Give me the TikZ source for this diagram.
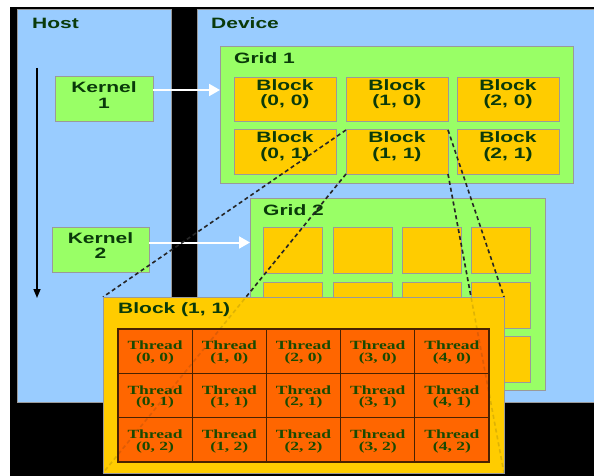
\documentclass[tikz,border=0pt]{standalone}
\usepackage{fontspec}
\usetikzlibrary{arrows.meta}
\newfontfamily\hb{Liberation Sans}[FakeStretch=1.4]
\newfontfamily\tb{Liberation Serif}[FakeStretch=1.4]
\definecolor{hostblue}{HTML}{99CCFF}
\definecolor{lgreen}{HTML}{99FF66}
\definecolor{bgold}{HTML}{FFCC00}
\definecolor{torange}{HTML}{FF6600}
\definecolor{dgreen}{HTML}{0A3A0A}
\definecolor{tgreen}{HTML}{1A4A00}
\definecolor{edgegray}{HTML}{9A9A9A}
\definecolor{dbrown}{HTML}{4A2200}
\begin{document}
\begin{tikzpicture}[x=1pt,y=-1pt,
 box/.style={draw=edgegray,line width=1pt,anchor=north west,inner sep=0pt,outer sep=0pt},
 panel/.style={box,fill=hostblue},
 gbox/.style={box,fill=lgreen},
 bbox/.style={box,fill=bgold},
 tcell/.style={box,fill=torange,draw=dbrown,line width=1.2pt},
 ttl/.style={anchor=base west,inner sep=0pt,font=\hb\bfseries\fontsize{15}{15}\selectfont,text=dgreen},
 lab/.style={anchor=base,inner sep=0pt,align=center,font=\hb\bfseries\fontsize{15}{15.3}\selectfont,text=dgreen},
 tlab/.style={anchor=center,inner sep=0pt,align=center,font=\tb\bfseries\fontsize{12.5}{11.7}\selectfont,text=tgreen},
 warrow/.style={draw=white,line width=2pt,-{Triangle[length=11pt,width=12pt]}},
 dline/.style={draw=black!85,line width=1.6pt,dash pattern=on 4pt off 3pt},
]
\useasboundingbox (0,0) rectangle (594,476);
\fill[white] (0,0) rectangle (594,476);
\fill[black] (10,7) rectangle (594,476);

% panels
\node[panel,minimum width=154pt,minimum height=392pt] (host) at (17,10) {};
\node[panel,minimum width=397pt,minimum height=392pt] (dev) at (197,10) {};
\node[ttl] (hostt) at (32,28.5) {Host};
\node[ttl] (devt) at (211,28.5) {Device};

% host timeline arrow
\coordinate (hs) at (37,68);
\coordinate (he) at (37,298);
\draw[line width=1.5pt,-{Triangle[length=9pt,width=7pt]}] (hs) -- (he);

% kernels
\node[gbox,minimum width=98pt,minimum height=45pt] (k1) at (55,77) {};
\node[lab] (k1t) at ([yshift=-31.3pt]k1.north) {Kernel\\1};
\node[gbox,minimum width=97pt,minimum height=45pt] (k2) at (52,227) {};
\node[lab] (k2t) at ([yshift=-31.3pt]k2.north) {Kernel\\2};

% grid 1
\node[gbox,minimum width=353pt,minimum height=136pt] (g1) at (220,47) {};
\node[ttl] (g1t) at (234,64) {Grid 1};
\foreach \i/\x in {0/234,1/346,2/457}{
  \foreach \j/\y in {0/78,1/130}{
    \node[bbox,minimum width=102pt,minimum height=44pt] (b\i\j) at (\x,\y) {};
    \node[lab] (b\i\j t) at ([yshift=-28pt]b\i\j.north) {Block\\(\i, \j)};
  }
}

% grid 2
\node[gbox,minimum width=295pt,minimum height=192pt] (g2) at (250,198) {};
\node[ttl] (g2t) at (263,215) {Grid 2};
\foreach \i/\x in {0/263,1/333,2/402,3/471}{
  \foreach \j/\y in {0/227,1/282,2/336}{
    \node[bbox,minimum width=59pt,minimum height=46pt] (s\i\j) at (\x,\y) {};
  }
}

% kernel launch arrows
\coordinate (k1a) at ([yshift=9.5pt]k1.east);
\draw[warrow] (k1a) -- (k1a -| g1.west);
\coordinate (k2a) at ([yshift=7pt]k2.east);
\draw[warrow] (k2a) -- (k2a -| g2.west);

% zoom lines
\coordinate (bnw) at (103,297);
\coordinate (bne) at (504,297);
\coordinate (bsw) at (103,473);
\coordinate (bse) at (504,473);
\draw[dline] (b11.north west) -- (bnw);
\draw[dline] (b11.south west) -- (bsw);
\draw[dline] (b11.north east) -- (bne);
\draw[dline] (b11.south east) -- (bse);

% enlarged block
\node[bbox,minimum width=401pt,minimum height=176pt] (big) at (bnw) {};
\node[ttl] (bigt) at (118,313.3) {Block (1, 1)};
\foreach \i in {0,...,4}{
  \foreach \j in {0,1,2}{
    \node[tcell,minimum width=74.2pt,minimum height=44.33pt] (t\i\j) at ({118+74.2*\i},{329+44.33*\j}) {};
    \node[tlab] (t\i\j t) at ([yshift=-1.5pt]t\i\j.center) {Thread\\(\i, \j)};
  }
}
\draw[dbrown,line width=2pt] (t00.north west) rectangle (t42.south east);

% faint continuation of zoom lines through the block
\draw[dline,opacity=0.15] (b11.south west) -- (big.south west);
\draw[dline,opacity=0.15] (b11.south east) -- (big.south east);
\end{tikzpicture}
\end{document}
